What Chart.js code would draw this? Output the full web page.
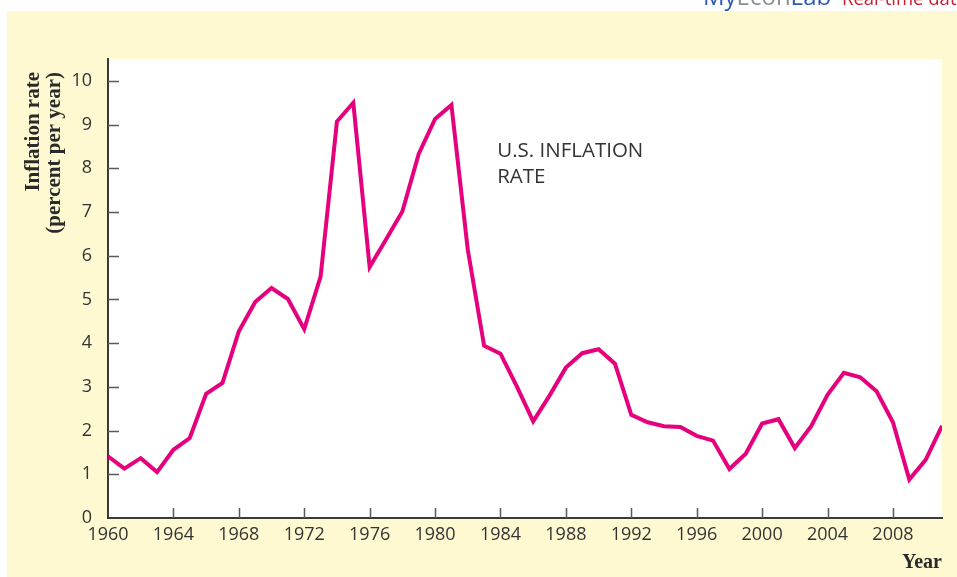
<!DOCTYPE html>
<html>
<head>
<meta charset="utf-8">
<title>U.S. Inflation Rate</title>
<script src="https://cdn.jsdelivr.net/npm/chart.js@4"></script>
<style>
    html, body { margin: 0; padding: 0; background: #ffffff; }
    #wrap { width: 957px; height: 577px; }
</style>
</head>
<body>
<div id="wrap">
    <canvas id="inflationChart" width="957" height="577"></canvas>
</div>
<script>
// =========================
// Chart Data
// =========================

const years = [
    1960, 1961, 1962, 1963, 1964, 1965, 1966, 1967, 1968, 1969,
    1970, 1971, 1972, 1973, 1974, 1975, 1976, 1977, 1978, 1979,
    1980, 1981, 1982, 1983, 1984, 1985, 1986, 1987, 1988, 1989,
    1990, 1991, 1992, 1993, 1994, 1995, 1996, 1997, 1998, 1999,
    2000, 2001, 2002, 2003, 2004, 2005, 2006, 2007, 2008, 2009,
    2010, 2011
];

// percent per year
const inflation = [
    1.41, 1.13, 1.37, 1.05, 1.56, 1.83, 2.84, 3.09, 4.27, 4.94,
    5.26, 5.01, 4.32, 5.52, 9.07, 9.50, 5.74, 6.37, 7.01, 8.33,
    9.13, 9.45, 6.14, 3.94, 3.76, 3.01, 2.21, 2.80, 3.44, 3.77,
    3.86, 3.53, 2.36, 2.19, 2.10, 2.08, 1.88, 1.77, 1.12, 1.47,
    2.16, 2.26, 1.60, 2.10, 2.82, 3.32, 3.22, 2.90, 2.19, 0.88,
    1.33, 2.11
];

const yearTicks = [1960, 1964, 1968, 1972, 1976, 1980, 1984, 1988, 1992, 1996, 2000, 2004, 2008];
const rateTicks = [0, 1, 2, 3, 4, 5, 6, 7, 8, 9, 10];

const yTitleLines = ["Inflation rate", "(percent per year)"];
const xTitle = "Year";
const noteLines = ["U.S. INFLATION", "RATE"];
const notePos = { x: 1983.8, y: 8.25 };

// =========================
// Styles
// =========================

const lineColor = "#e5007e";
const textColor = "#333333";
const axisColor = "#3a3a3a";
const tickColor = "#5a5a5a";
const panelColor = "#fff9d1";
const sansFont = "'Open Sans', 'Noto Sans', sans-serif";
const serifFont = "'Liberation Serif', 'DejaVu Serif', serif";

// =========================
// Plugins
// =========================

const backgroundPlugin = {
    id: "panelBackground",
    beforeDraw(chart) {
        const ctx = chart.ctx;
        const area = chart.chartArea;
        ctx.save();
        ctx.fillStyle = "#ffffff";
        ctx.fillRect(0, 0, chart.width, chart.height);
        ctx.fillStyle = panelColor;
        ctx.fillRect(7, 11, chart.width - 7, chart.height - 11);
        ctx.fillStyle = "#ffffff";
        ctx.fillRect(area.left, area.top, area.right - area.left, area.bottom - area.top);

        // cut-off banner at the very top
        ctx.textBaseline = "alphabetic";
        ctx.textAlign = "left";
        let x = 703;
        ctx.font = "24px " + sansFont;
        const parts = [["My", "#2b5bb0"], ["Econ", "#8a8f96"], ["Lab", "#2b5bb0"]];
        parts.forEach(p => {
            ctx.fillStyle = p[1];
            ctx.fillText(p[0], x, 5);
            x += ctx.measureText(p[0]).width;
        });
        ctx.font = "18.5px " + sansFont;
        ctx.fillStyle = "#c8202f";
        ctx.fillText("Real-time data", 842, 5);
        ctx.restore();
    }
};

const overlayPlugin = {
    id: "overlay",
    afterDraw(chart) {
        const ctx = chart.ctx;
        const xs = chart.scales.x;
        const ys = chart.scales.y;
        const area = chart.chartArea;

        ctx.save();

        // tick marks pointing into the plot
        ctx.strokeStyle = tickColor;
        ctx.lineWidth = 1.5;
        ctx.beginPath();
        xs.ticks.forEach(t => {
            const px = Math.round(xs.getPixelForValue(t.value)) + 0.5;
            if (px < area.left + 2) return;
            ctx.moveTo(px, area.bottom);
            ctx.lineTo(px, area.bottom - 10);
        });
        ys.ticks.forEach(t => {
            const py = Math.round(ys.getPixelForValue(t.value)) + 0.5;
            if (py > area.bottom - 2) return;
            ctx.moveTo(area.left, py);
            ctx.lineTo(area.left + 11, py);
        });
        ctx.stroke();

        // y axis title, rotated
        ctx.fillStyle = "#2a2a2a";
        ctx.font = "bold 21px " + serifFont;
        ctx.textAlign = "right";
        ctx.textBaseline = "alphabetic";
        yTitleLines.forEach((line, i) => {
            ctx.save();
            ctx.translate(39 + i * 21, 72);
            ctx.rotate(-Math.PI / 2);
            ctx.fillText(line, 0, 0);
            ctx.restore();
        });

        // series label
        ctx.fillStyle = textColor;
        ctx.font = "20.5px " + sansFont;
        ctx.textAlign = "left";
        const nx = xs.getPixelForValue(notePos.x);
        const ny = ys.getPixelForValue(notePos.y);
        noteLines.forEach((line, i) => {
            ctx.fillText(line, nx, ny + i * 25.6);
        });

        ctx.restore();
    }
};

// =========================
// Create Chart
// =========================

const ctx = document.getElementById("inflationChart");

const chart = new Chart(ctx, {
    type: "line",
    data: {
        datasets: [{
            label: "U.S. inflation rate",
            data: years.map((yr, i) => ({ x: yr, y: inflation[i] })),
            borderColor: lineColor,
            borderWidth: 4,
            borderJoinStyle: "miter",
            pointRadius: 0,
            tension: 0,
            fill: false
        }]
    },
    options: {
        responsive: false,
        devicePixelRatio: 1,
        animation: false,
        layout: {
            padding: { top: 59, right: 15, left: 0, bottom: 0 }
        },
        plugins: {
            legend: { display: false },
            tooltip: { enabled: false }
        },
        scales: {
            x: {
                type: "linear",
                min: 1960,
                max: 2011,
                afterFit: s => { s.height = 59; },
                afterBuildTicks: s => { s.ticks = yearTicks.map(v => ({ value: v })); },
                grid: { display: false },
                border: { display: true, color: axisColor, width: 2 },
                ticks: {
                    autoSkip: false,
                    maxRotation: 0,
                    padding: -2,
                    color: textColor,
                    font: { family: sansFont, size: 18 },
                    callback: v => String(v)
                },
                title: {
                    display: true,
                    text: xTitle,
                    align: "end",
                    color: "#2a2a2a",
                    font: { family: serifFont, size: 20, weight: "bold" },
                    padding: { top: 0, bottom: 2 }
                }
            },
            y: {
                type: "linear",
                min: 0,
                max: 10.5,
                afterFit: s => { s.width = 108; },
                afterBuildTicks: s => { s.ticks = rateTicks.map(v => ({ value: v })); },
                grid: { display: false },
                border: { display: true, color: axisColor, width: 2 },
                ticks: {
                    padding: 8,
                    color: textColor,
                    font: { family: sansFont, size: 18 },
                    callback: v => String(v)
                }
            }
        }
    },
    plugins: [backgroundPlugin, overlayPlugin]
});
</script>
</body>
</html>
